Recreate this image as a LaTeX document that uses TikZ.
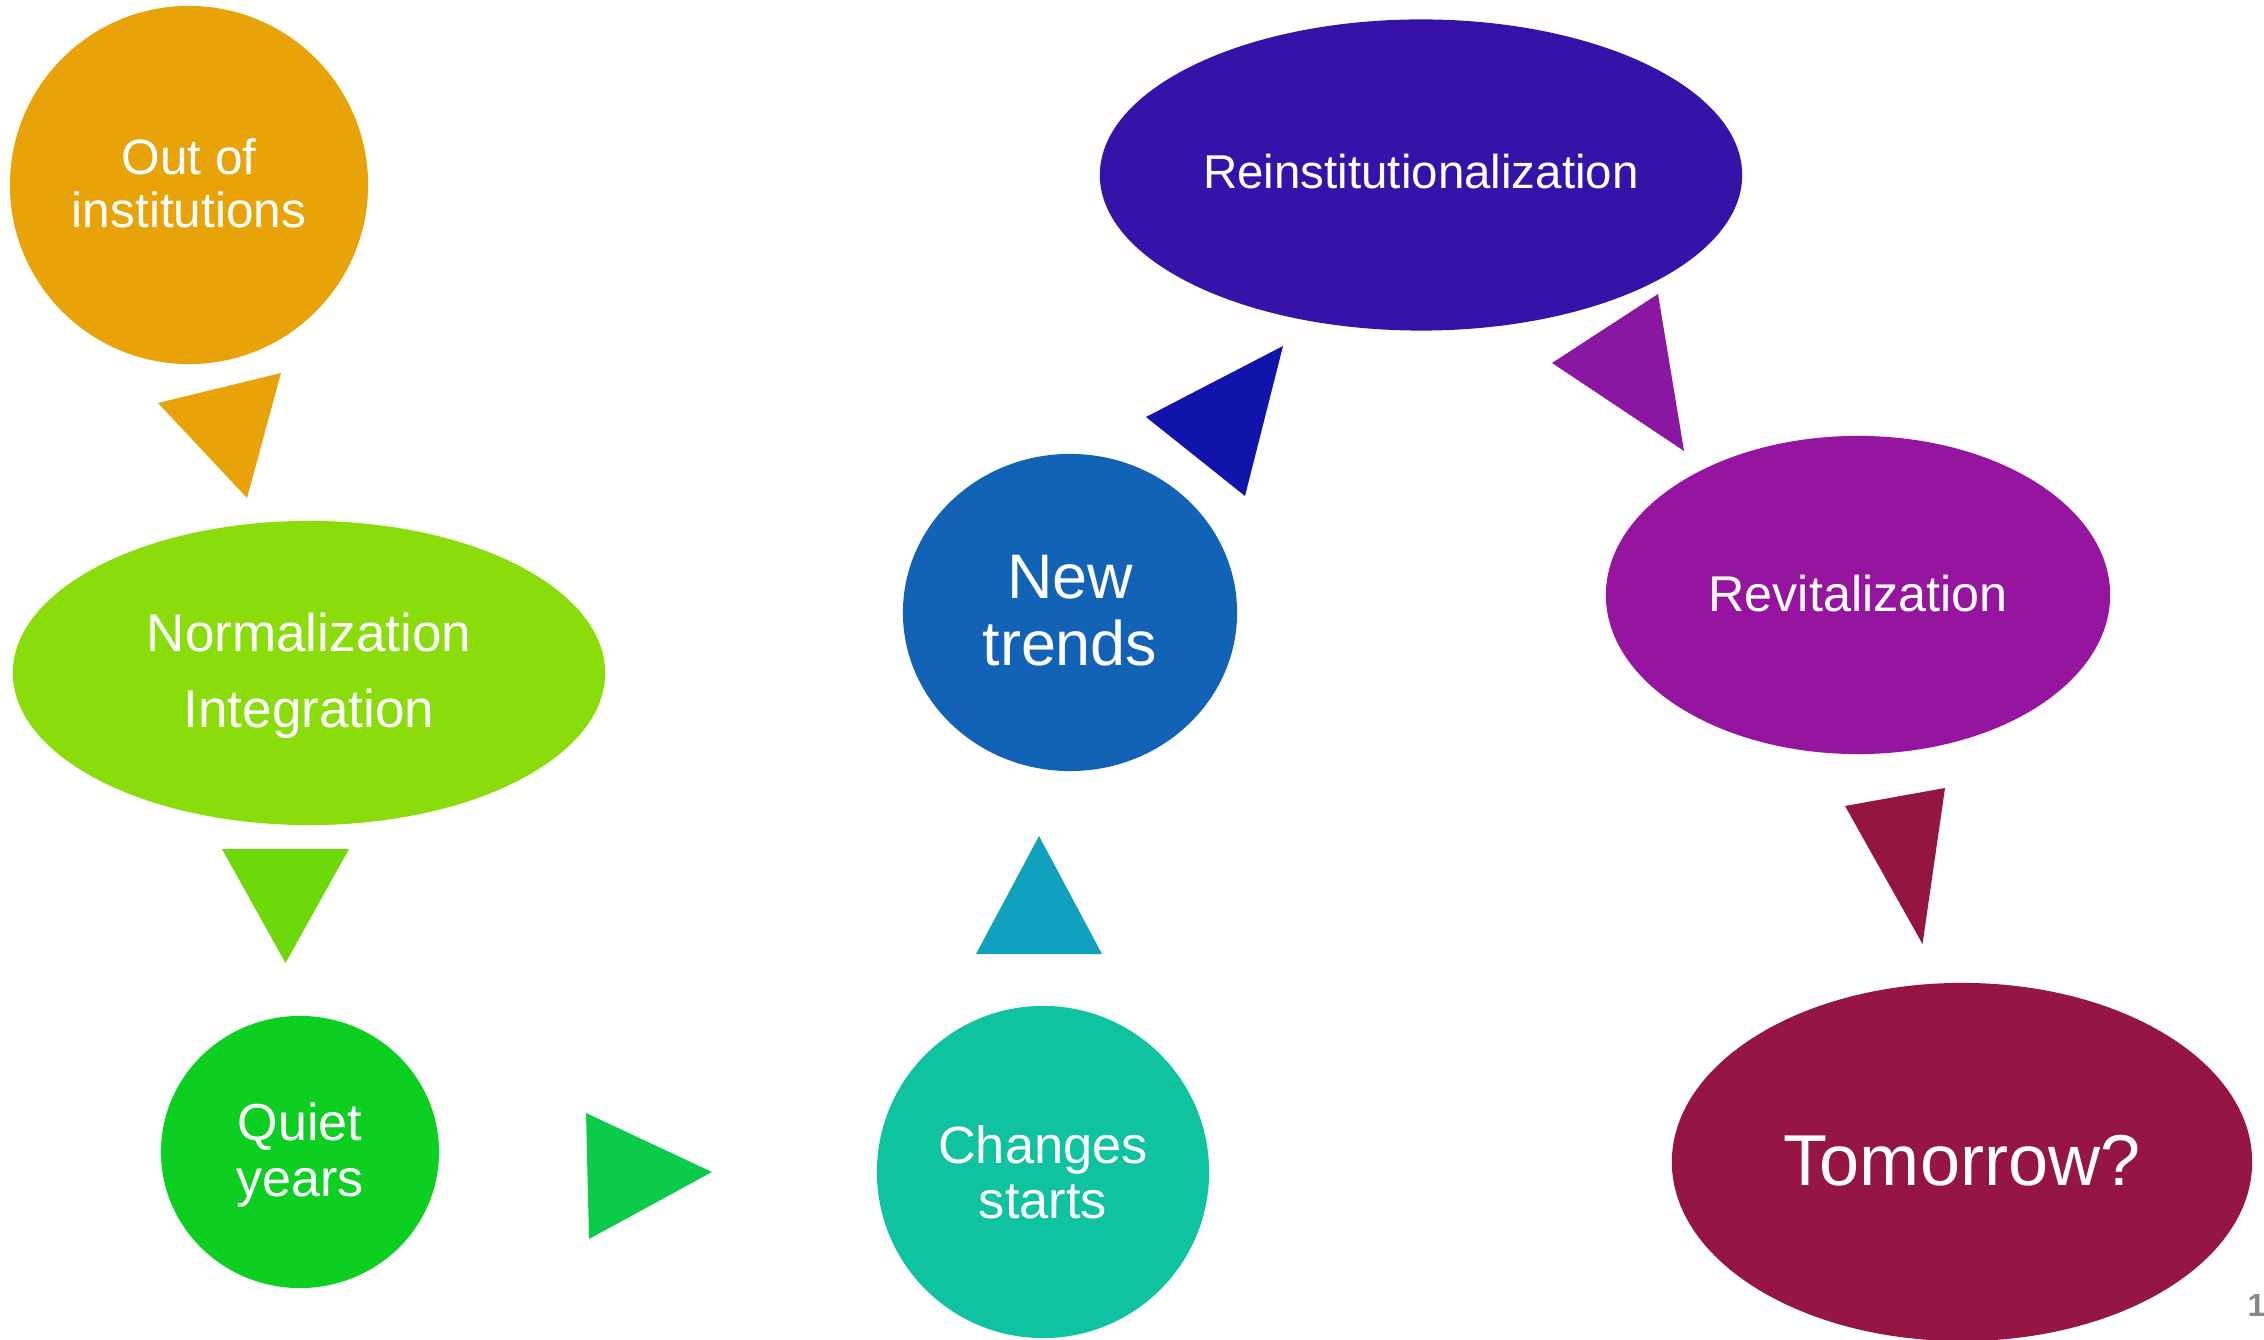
\documentclass[tikz,border=0pt]{standalone}
\usepackage{fontspec}
\setmainfont{Liberation Sans}
\usetikzlibrary{shapes.geometric}
\definecolor{cOrange}{RGB}{232,163,8}
\definecolor{cLime}{RGB}{138,221,10}
\definecolor{cLimeTri}{RGB}{110,217,10}
\definecolor{cQuiet}{RGB}{13,207,34}
\definecolor{cGreenTri}{RGB}{12,203,74}
\definecolor{cTeal}{RGB}{15,195,160}
\definecolor{cTealTri}{RGB}{17,161,190}
\definecolor{cBlue}{RGB}{18,98,182}
\definecolor{cBlueTri}{RGB}{16,20,170}
\definecolor{cIndigo}{RGB}{54,19,168}
\definecolor{cPurpleTri}{RGB}{138,23,162}
\definecolor{cPurple}{RGB}{150,21,159}
\definecolor{cCrimsonTri}{RGB}{147,21,64}
\definecolor{cCrimson}{RGB}{149,21,69}
\definecolor{cPageNo}{RGB}{136,136,136}
\begin{document}
\begin{tikzpicture}[x=0.01cm,y=-0.01cm,
  bubble/.style={ellipse, draw=none, inner sep=0pt},
  txt/.style={text=white, inner sep=0pt, anchor=base},
  fs/.style={font=\fontsize{#1}{#1}\selectfont}]
\useasboundingbox (0,0) rectangle (2264,1340);

% bubbles
\node[bubble, fill=cOrange, minimum width=3.58cm, minimum height=3.58cm] (out) at (189,185) {};
\node[bubble, fill=cLime, minimum width=5.92cm, minimum height=3.04cm] (norm) at (309,673) {};
\node[bubble, fill=cQuiet, minimum width=2.78cm, minimum height=2.72cm] (quiet) at (300,1152) {};
\node[bubble, fill=cTeal, minimum width=3.32cm, minimum height=3.32cm] (changes) at (1043,1172) {};
\node[bubble, fill=cBlue, minimum width=3.34cm, minimum height=3.17cm] (new) at (1070,612.5) {};
\node[bubble, fill=cIndigo, minimum width=6.42cm, minimum height=3.11cm] (reinst) at (1421,175) {};
\node[bubble, fill=cPurple, minimum width=5.04cm, minimum height=3.18cm] (revit) at (1858,595) {};
\node[bubble, fill=cCrimson, minimum width=5.80cm, minimum height=3.58cm] (tomorrow) at (1962,1162) {};

% texts
\node[txt, fs=14.1pt] (out-a) at (189,175) {Out of};
\node[txt, fs=14.1pt] (out-b) at (189,228) {institutions};
\node[txt, fs=15.1pt] (norm-a) at (309,651.5) {Normalization};
\node[txt, fs=15.1pt] (norm-b) at (309,728) {Integration};
\node[txt, fs=14.8pt] (quiet-a) at (300,1140) {Quiet};
\node[txt, fs=14.8pt] (quiet-b) at (300,1196) {years};
\node[txt, fs=14.9pt] (changes-a) at (1043,1163) {Changes};
\node[txt, fs=14.9pt] (changes-b) at (1043,1218) {starts};
\node[txt, fs=17.9pt] (new-a) at (1070,599) {New};
\node[txt, fs=17.9pt] (new-b) at (1070,666) {trends};
\node[txt, fs=13.5pt] (reinst-a) at (1421,189) {Reinstitutionalization};
\node[txt, fs=14.3pt] (revit-a) at (1858,611) {Revitalization};
\node[txt, fs=20.5pt] (tomorrow-a) at (1962,1185) {Tomorrow?};
\node[inner sep=0pt, anchor=base west, text=cPageNo, font=\fontsize{9.1pt}{9.1pt}\selectfont\bfseries] (pageno) at (2247,1316) {1};

% triangle arrows
\fill[cOrange] (158,403) -- (281,373) -- (247,498) -- cycle;
\fill[cLimeTri] (222,849) -- (349,849) -- (285.5,963) -- cycle;
\fill[cGreenTri] (586,1113) -- (712,1172) -- (589,1239) -- cycle;
\fill[cTealTri] (976,954) -- (1102,954) -- (1039,836) -- cycle;
\fill[cBlueTri] (1146,417) -- (1283,346) -- (1245,496) -- cycle;
\fill[cPurpleTri] (1552,363) -- (1658,294) -- (1684,451) -- cycle;
\fill[cCrimsonTri] (1845,806) -- (1945,788) -- (1922.5,944) -- cycle;
\end{tikzpicture}
\end{document}
